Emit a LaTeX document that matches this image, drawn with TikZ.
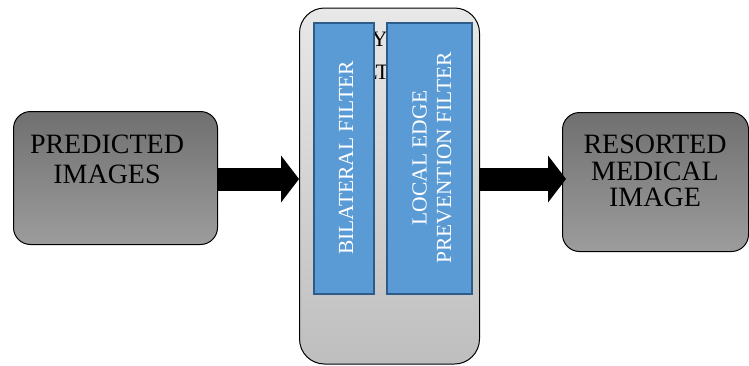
\documentclass[tikz,border=0pt]{standalone}
\usepackage{fontspec}
\setmainfont{Liberation Serif}
\usetikzlibrary{arrows.meta}
\definecolor{graytop}{HTML}{707070}
\definecolor{graybot}{HTML}{9C9C9C}
\definecolor{conttop}{HTML}{E8E8E8}
\definecolor{contbot}{HTML}{BEBEBE}
\definecolor{bluefill}{HTML}{5B9BD5}
\definecolor{blueline}{HTML}{2E5C8A}
\begin{document}
\begin{tikzpicture}[x=1pt,y=-1pt,
  graybox/.style={draw=black, line width=1pt, rounded corners=17pt,
    top color=graytop, bottom color=graybot, inner sep=0pt, anchor=north west},
  contbox/.style={draw=black, line width=1pt, rounded corners=25pt,
    top color=conttop, bottom color=contbot, inner sep=0pt, anchor=north west},
  bluebox/.style={draw=blueline, line width=1.5pt, fill=bluefill,
    inner sep=0pt, anchor=north west},
  bigtext/.style={font=\fontsize{28}{30}\selectfont, align=center, inner sep=0pt, anchor=north},
  bluetext/.style={font=\fontsize{21.5}{24.5}\selectfont, align=center, text=white,
    inner sep=0pt, rotate=90},
  hidtext/.style={font=\fontsize{22}{26}\selectfont, inner sep=0pt, anchor=base},
  blockarrow/.style={line width=23pt, -{Triangle[length=18pt, width=47pt, line width=0pt]}}]
\useasboundingbox (0,0) rectangle (749,365);

% left box
\node[graybox, minimum width=204pt, minimum height=133pt] (pred) at (13,111) {};
\node[bigtext] (predtxt) at (107,135) {PREDICTED\\IMAGES};

% container
\node[contbox, minimum width=180pt, minimum height=356pt] (cont) at (299,7.5) {};
\node[hidtext] (hidA) at (380,46) {LAYER};
\node[hidtext] (hidB) at (381,79) {FILTER};

% blue filter boxes
\node[bluebox, minimum width=60pt, minimum height=271pt] (bil) at (313,22) {};
\node[bluebox, minimum width=85pt, minimum height=271pt] (lep) at (386,22) {};
\node[bluetext] (biltxt) at (346,158) {BILATERAL FILTER};
\node[bluetext] (leptxt) at (432,158) {LOCAL EDGE\\PREVENTION FILTER};

% right box
\node[graybox, minimum width=186pt, minimum height=139pt] (res) at (562,112) {};
\node[bigtext, font=\fontsize{28}{26.5}\selectfont] (restxt) at (655,135) {RESORTED\\MEDICAL\\IMAGE};

% arrows
\coordinate (ay) at (0,179);
\coordinate (resin) at ([xshift=4pt]res.west);
\draw[blockarrow] (pred.east |- ay) -- (cont.west |- ay);
\draw[blockarrow] (cont.east |- ay) -- (resin |- ay);
\end{tikzpicture}
\end{document}
